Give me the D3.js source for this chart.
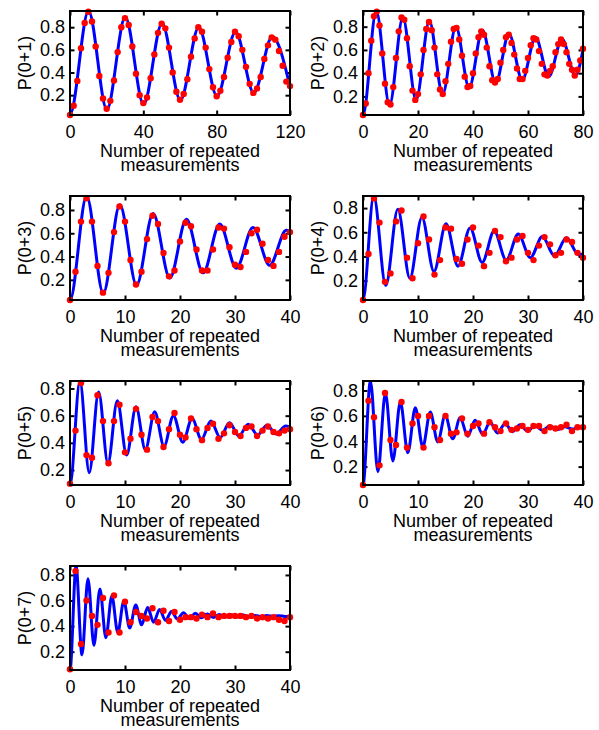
<!DOCTYPE html>
<html>
<head>
<meta charset="utf-8">
<script src="https://cdn.jsdelivr.net/npm/d3@7"></script>
<style>
body { margin: 0; background: #fff; }
text { font-family: "Liberation Sans", Arial, sans-serif; fill: #000; }
</style>
</head>
<body>
<div class="canvas"></div>
<script>
// panel labels and x ranges
const yLabels = ['P(0+1)', 'P(0+2)', 'P(0+3)', 'P(0+4)', 'P(0+5)', 'P(0+6)', 'P(0+7)'];
const xMaxes = [120, 80, 40, 40, 40, 40, 40];
const xSteps = [2, 1, 1, 1, 1, 1, 1];
const xTicks120 = [0, 40, 80, 120];
const xTicks80 = [0, 20, 40, 60, 80];
const xTicks40 = [0, 10, 20, 30, 40];
const yTicks = [0.2, 0.4, 0.6, 0.8];

// measured points (red)
const dots1 = [0.025, 0.107, 0.326, 0.615, 0.838, 0.937, 0.85, 0.63, 0.37, 0.17, 0.08,
  0.15, 0.33, 0.58, 0.80, 0.88, 0.82, 0.63, 0.39, 0.20, 0.13,
  0.18, 0.35, 0.56, 0.75, 0.83, 0.79, 0.62, 0.40, 0.23, 0.16,
  0.21, 0.34, 0.54, 0.70, 0.80, 0.76, 0.62, 0.43, 0.27, 0.19,
  0.24, 0.36, 0.53, 0.67, 0.76, 0.72, 0.60, 0.45, 0.30, 0.22,
  0.26, 0.36, 0.52, 0.64, 0.71, 0.69, 0.59, 0.46, 0.32, 0.28];
const dots2 = [0.04, 0.14, 0.40, 0.68, 0.89, 0.93, 0.81, 0.57, 0.31, 0.15, 0.13,
  0.28, 0.53, 0.76, 0.88, 0.86, 0.70, 0.46, 0.25, 0.17, 0.22,
  0.39, 0.60, 0.78, 0.84, 0.77, 0.62, 0.39, 0.26, 0.22, 0.33,
  0.48, 0.67, 0.78, 0.79, 0.69, 0.55, 0.37, 0.28, 0.29, 0.40,
  0.57, 0.71, 0.76, 0.73, 0.62, 0.46, 0.34, 0.32, 0.35, 0.49,
  0.60, 0.71, 0.73, 0.66, 0.56, 0.44, 0.35, 0.35, 0.42, 0.53,
  0.64, 0.70, 0.69, 0.59, 0.48, 0.39, 0.38, 0.42, 0.46, 0.58,
  0.65, 0.69, 0.65, 0.58, 0.48, 0.43, 0.38, 0.43, 0.51, 0.61];
const dots3 = [0.027, 0.27, 0.70, 0.90, 0.70, 0.32, 0.09, 0.26, 0.61, 0.83, 0.70,
  0.37, 0.16, 0.27, 0.55, 0.75, 0.68, 0.43, 0.23, 0.28, 0.53,
  0.69, 0.66, 0.46, 0.28, 0.28, 0.46, 0.65, 0.64, 0.48, 0.33,
  0.31, 0.44, 0.60, 0.63, 0.51, 0.37, 0.32, 0.44, 0.57, 0.61];
const dots4 = [0.04, 0.42, 0.88, 0.68, 0.19, 0.26, 0.69, 0.78, 0.39, 0.22, 0.51,
  0.73, 0.54, 0.25, 0.37, 0.64, 0.63, 0.38, 0.34, 0.54, 0.64,
  0.49, 0.32, 0.43, 0.61, 0.56, 0.36, 0.39, 0.54, 0.57, 0.43,
  0.37, 0.49, 0.56, 0.50, 0.41, 0.43, 0.54, 0.52, 0.43, 0.39];
const dots5 = [0.10, 0.49, 0.84, 0.31, 0.29, 0.75, 0.56, 0.25, 0.56, 0.68, 0.33,
  0.43, 0.65, 0.46, 0.35, 0.59, 0.56, 0.37, 0.50, 0.62, 0.46,
  0.44, 0.58, 0.50, 0.42, 0.51, 0.54, 0.43, 0.47, 0.53, 0.48,
  0.45, 0.51, 0.52, 0.45, 0.49, 0.52, 0.48, 0.47, 0.49, 0.50];
const dots6 = [0.055, 0.72, 0.59, 0.21, 0.78, 0.41, 0.37, 0.71, 0.35, 0.54, 0.60,
  0.35, 0.60, 0.51, 0.41, 0.60, 0.46, 0.47, 0.58, 0.46, 0.52,
  0.54, 0.46, 0.55, 0.51, 0.48, 0.54, 0.49, 0.50, 0.52, 0.49,
  0.52, 0.52, 0.48, 0.51, 0.50, 0.51, 0.53, 0.48, 0.51, 0.51];
const dots7 = [0.063, 0.83, 0.26, 0.60, 0.48, 0.41, 0.62, 0.35, 0.64, 0.35, 0.59,
  0.43, 0.51, 0.48, 0.46, 0.54, 0.43, 0.52, 0.44, 0.51, 0.45,
  0.47, 0.47, 0.46, 0.49, 0.47, 0.50, 0.47, 0.48, 0.48, 0.48,
  0.48, 0.47, 0.48, 0.46, 0.47, 0.46, 0.47, 0.45, 0.44, 0.47];

// fitted curve (blue), read as turning points [x, P]; x = 0 is a minimum
const fit1 = [[0, 0.03], [10.1, 0.943], [20.1, 0.075], [30.15, 0.89], [40.15, 0.12], [50.2, 0.835],
  [60.2, 0.155], [70.25, 0.80], [80.2, 0.19], [90.3, 0.76], [100.25, 0.22], [110.3, 0.715],
  [120, 0.275]];
const fit2 = [[0, 0.04], [4.83, 0.935], [9.65, 0.125], [14.48, 0.88], [19.3, 0.17], [24.13, 0.85],
  [28.95, 0.22], [33.78, 0.80], [38.6, 0.275], [43.43, 0.77], [48.25, 0.315], [53.08, 0.74],
  [57.9, 0.34], [62.73, 0.71], [67.55, 0.37], [72.38, 0.695], [77.2, 0.38], [80, 0.60]];
const fit3 = [[0, 0.027], [3.02, 0.92], [6.05, 0.085], [9.07, 0.845], [12.1, 0.155], [15.12, 0.77],
  [18.15, 0.215], [21.17, 0.72], [24.2, 0.26], [27.22, 0.68], [30.25, 0.30], [33.27, 0.65],
  [36.3, 0.325], [39.32, 0.625], [40, 0.615]];
const fit4 = [[0, 0.04], [1.95, 0.90], [4.14, 0.16], [6.33, 0.79], [8.52, 0.22], [10.71, 0.725],
  [12.9, 0.275], [15.09, 0.67], [17.28, 0.32], [19.47, 0.635], [21.66, 0.35], [23.85, 0.61],
  [26.04, 0.37], [28.23, 0.585], [30.42, 0.39], [32.61, 0.565], [34.8, 0.405], [36.99, 0.555],
  [39.18, 0.415], [40, 0.42]];
const fit5 = [[0, 0.09], [1.8, 0.855], [3.5, 0.18], [5.2, 0.775], [6.9, 0.25], [8.6, 0.71],
  [10.3, 0.31], [12.0, 0.665], [13.7, 0.35], [15.4, 0.628], [17.1, 0.375], [18.8, 0.60],
  [20.5, 0.405], [22.2, 0.58], [23.9, 0.425], [25.6, 0.56], [27.3, 0.44], [29.0, 0.547],
  [30.7, 0.45], [32.4, 0.537], [34.1, 0.458], [35.8, 0.53], [37.5, 0.465], [39.2, 0.524], [40, 0.515]];
const fit6 = [[0, 0.055], [1.35, 0.875], [2.71, 0.16], [4.07, 0.78], [5.43, 0.245], [6.79, 0.71],
  [8.15, 0.31], [9.51, 0.665], [10.87, 0.355], [12.23, 0.63], [13.59, 0.395], [14.95, 0.605],
  [16.31, 0.42], [17.67, 0.585], [19.03, 0.44], [20.39, 0.565], [21.75, 0.455], [23.11, 0.55],
  [24.47, 0.465], [25.83, 0.54], [27.19, 0.475], [28.55, 0.53], [29.91, 0.48], [31.27, 0.525],
  [32.63, 0.487], [33.99, 0.52], [35.35, 0.492], [36.71, 0.515], [38.07, 0.496], [39.43, 0.512], [40, 0.508]];
const fit7 = [[0, 0.057], [1.1, 0.87], [2.18, 0.175], [3.27, 0.77], [4.35, 0.25], [5.44, 0.69],
  [6.52, 0.31], [7.61, 0.635], [8.69, 0.35], [9.78, 0.595], [10.86, 0.385], [11.95, 0.565],
  [13.03, 0.41], [14.12, 0.545], [15.2, 0.43], [16.29, 0.53], [17.37, 0.445], [18.46, 0.515],
  [19.54, 0.455], [20.63, 0.505], [21.71, 0.46], [22.8, 0.50], [23.88, 0.465], [24.97, 0.495],
  [26.05, 0.468], [27.14, 0.49], [28.22, 0.47], [29.31, 0.488], [30.39, 0.472], [31.48, 0.486],
  [32.56, 0.473], [33.65, 0.484], [34.73, 0.474], [35.82, 0.483], [36.9, 0.475], [37.99, 0.482],
  [39.07, 0.476], [40, 0.478]];

const dotSets = [dots1, dots2, dots3, dots4, dots5, dots6, dots7];
const fitSets = [fit1, fit2, fit3, fit4, fit5, fit6, fit7];
const xTickSets = [xTicks120, xTicks80, xTicks40, xTicks40, xTicks40, xTicks40, xTicks40];

const svg = d3.select('.canvas').append('svg')
    .attr('width', 599)
    .attr('height', 730);

const w = 220, h = 104, tick = 4.5;

yLabels.forEach((label, i) => {
  const left = i % 2 === 0 ? 70 : 363;
  const top = 11 + Math.floor(i / 2) * 185;
  const g = svg.append('g').attr('transform', `translate(${left}, ${top})`);

  const dots = dotSets[i].map((v, k) => [k * xSteps[i], v]);
  const fit = fitSets[i];
  const yExt = d3.extent(dots.concat(fit), d => d[1]);

  const x = d3.scaleLinear().domain([0, xMaxes[i]]).range([0, w]);
  const y = d3.scaleLinear().domain(yExt).range([h, 0]);

  g.append('clipPath')
      .attr('id', 'clip' + i)
      .append('rect')
      .attr('width', w)
      .attr('height', h);

  // axes, ticks inward on all four sides
  const axes = [
    [d3.axisBottom(x).tickValues(xTickSets[i]).tickFormat(d3.format('d')), `translate(0, ${h})`, 10],
    [d3.axisTop(x).tickValues(xTickSets[i]).tickFormat(''), 'translate(0, 0)', 0],
    [d3.axisLeft(y).tickValues(yTicks).tickFormat(d3.format('.1f')), 'translate(0, 0)', 5],
    [d3.axisRight(y).tickValues(yTicks).tickFormat(''), `translate(${w}, 0)`, 0]
  ];
  axes.forEach(([ax, tr, pad]) => {
    const a = g.append('g')
        .attr('transform', tr)
        .call(ax.tickSizeInner(-tick).tickSizeOuter(0).tickPadding(pad));
    a.select('.domain').remove();
    a.selectAll('line').attr('stroke', '#000').attr('stroke-width', 2);
    a.selectAll('text')
        .style('font-family', '"Liberation Sans", Arial, sans-serif')
        .style('font-size', '18px')
        .attr('fill', '#000');
  });

  // the curve starts at a minimum: mirror the first turning point so the slope at 0 is flat
  const lineData = [[-fit[1][0], fit[1][1]]].concat(fit);
  g.append('path')
      .datum(lineData)
      .attr('clip-path', `url(#clip${i})`)
      .attr('fill', 'none')
      .attr('stroke', '#0000ff')
      .attr('stroke-width', 3)
      .attr('d', d3.line().x(d => x(d[0])).y(d => y(d[1])).curve(d3.curveMonotoneX));

  g.selectAll('circle')
      .data(dots)
      .enter().append('circle')
      .attr('cx', d => x(d[0]))
      .attr('cy', d => y(d[1]))
      .attr('r', 3.2)
      .attr('fill', '#ff0000');

  g.append('rect')
      .attr('width', w)
      .attr('height', h)
      .attr('fill', 'none')
      .attr('stroke', '#000')
      .attr('stroke-width', 2);

  g.append('text')
      .attr('transform', `translate(-39, ${h / 2}) rotate(-90)`)
      .attr('text-anchor', 'middle')
      .style('font-size', '18px')
      .text(label);

  const xl = g.append('text')
      .attr('x', w / 2)
      .attr('y', h + 42)
      .attr('text-anchor', 'middle')
      .style('font-size', '18px');
  xl.append('tspan').attr('x', w / 2).text('Number of repeated');
  xl.append('tspan').attr('x', w / 2).attr('dy', 14).text('measurements');
});
</script>
</body>
</html>
